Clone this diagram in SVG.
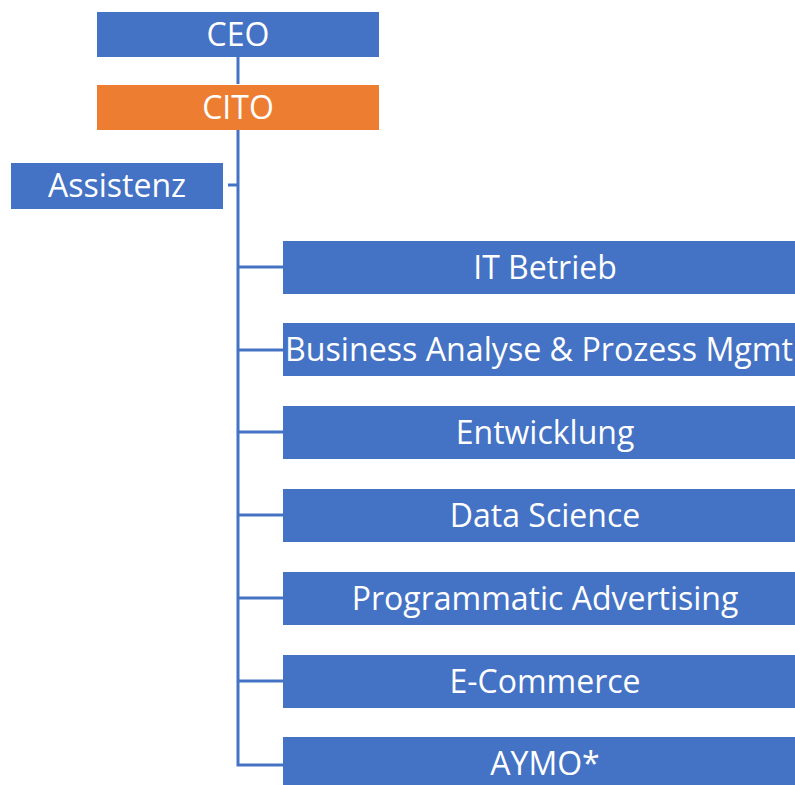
<svg xmlns="http://www.w3.org/2000/svg" width="795" height="785" viewBox="0 0 795 785">
<style>
.b{fill:#4472C4}
.o{fill:#ED7D31}
.t{fill:#fff;font-family:"Open Sans","Liberation Sans",sans-serif;font-size:32px;text-anchor:middle}
.c{stroke:#4472C4;stroke-width:3;fill:none}
</style>
<rect width="795" height="785" fill="#fff"/>
<g id="connectors">
<line class="c" x1="238" y1="57" x2="238" y2="84"/>
<polyline class="c" points="238,130 238,765 283,765"/>
<line class="c" x1="228" y1="185" x2="238" y2="185"/>
<line class="c" x1="238" y1="267" x2="283" y2="267"/>
<line class="c" x1="238" y1="350" x2="283" y2="350"/>
<line class="c" x1="238" y1="432" x2="283" y2="432"/>
<line class="c" x1="238" y1="515" x2="283" y2="515"/>
<line class="c" x1="238" y1="598" x2="283" y2="598"/>
<line class="c" x1="238" y1="681" x2="283" y2="681"/>
</g>
<g id="ceo"><rect class="b" x="97" y="12" width="282" height="45"/><text class="t" x="238" y="46">CEO</text></g>
<g id="cito"><rect class="o" x="97" y="85" width="282" height="45"/><text class="t" x="238" y="119">CITO</text></g>
<g id="assistenz"><rect class="b" x="11" y="163" width="212" height="46"/><text class="t" x="117" y="197">Assistenz</text></g>
<g id="it"><rect class="b" x="283" y="241" width="512" height="53"/><text class="t" x="545" y="279">IT Betrieb</text></g>
<g id="ba"><rect class="b" x="283" y="323" width="512" height="53"/><text class="t" x="539" y="361" textLength="508" lengthAdjust="spacingAndGlyphs">Business Analyse &amp; Prozess Mgmt</text></g>
<g id="ent"><rect class="b" x="283" y="406" width="512" height="53"/><text class="t" x="545" y="444">Entwicklung</text></g>
<g id="ds"><rect class="b" x="283" y="489" width="512" height="53"/><text class="t" x="545" y="527">Data Science</text></g>
<g id="pa"><rect class="b" x="283" y="572" width="512" height="53"/><text class="t" x="545" y="610">Programmatic Advertising</text></g>
<g id="ec"><rect class="b" x="283" y="655" width="512" height="53"/><text class="t" x="545" y="693">E-Commerce</text></g>
<g id="aymo"><rect class="b" x="283" y="737" width="512" height="53"/><text class="t" x="545" y="775">AYMO*</text></g>
</svg>
